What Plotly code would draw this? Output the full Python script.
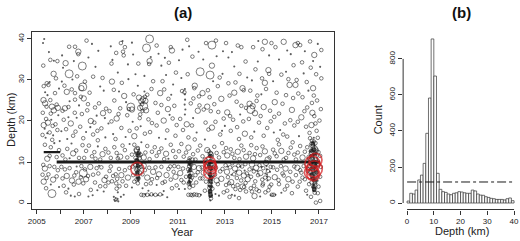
import plotly.graph_objects as go

# ---------------- data: panel (a) earthquakes (year, depth km, size class) ----------------
upper_events = [
    (2005.32,40.0,1),(2005.27,39.0,1),(2005.58,34.9,2),(2005.73,34.7,1),(2005.88,34.6,2),
    (2005.72,31.5,3),(2005.43,29.2,2),(2005.50,28.8,2),(2005.30,28.5,2),(2005.55,29.5,1),
    (2005.29,25.1,3),(2005.36,24.3,3),(2005.42,23.5,2),(2005.58,25.1,2),(2005.65,23.5,3),
    (2005.85,24.0,2),(2005.73,22.6,3),(2005.26,22.0,2),(2005.40,20.5,2),(2005.48,19.6,3),
    (2005.62,20.3,1),(2005.80,19.2,2),(2005.34,18.1,1),(2005.92,21.4,1),(2005.55,17.2,2),
    (2005.30,19.0,3),(2005.70,16.5,1),(2005.88,17.8,2),(2005.46,26.3,1),(2005.95,27.9,1),
    (2005.66,15.4,2),(2005.38,15.9,1),(2005.78,26.8,2),
    (2006.23,34.1,3),(2006.38,38.1,2),(2006.63,38.1,2),(2006.77,36.9,3),(2006.77,36.3,2),
    (2006.94,33.4,4),(2006.38,31.5,4),(2006.07,29.6,1),(2006.28,27.1,3),(2006.49,27.7,2),
    (2006.63,26.8,2),(2006.90,28.0,3),(2006.96,28.3,4),(2006.63,25.2,2),(2006.20,23.1,3),
    (2006.35,23.4,2),(2006.62,22.0,2),(2006.15,20.3,2),(2006.45,19.4,3),(2006.70,20.8,1),
    (2006.85,18.6,2),(2006.05,17.5,1),(2006.55,16.4,2),(2006.30,15.6,1),(2006.92,21.7,2),
    (2006.12,33.0,1),(2006.52,30.1,1),(2006.80,23.8,1),(2006.25,18.0,2),
    (2007.05,29.6,2),(2007.00,25.5,3),(2007.15,22.6,2),(2007.30,20.0,3),(2007.45,19.6,2),
    (2007.55,21.3,1),(2007.25,26.9,2),(2007.65,24.3,2),(2007.50,33.2,1),(2007.85,27.4,1),
    (2007.40,16.7,2),(2007.75,18.2,2),(2007.90,20.7,1),(2007.10,17.3,1),(2007.60,15.3,2),
    (2007.20,35.5,1),(2007.80,30.5,2),(2007.95,23.0,2),(2007.35,38.8,1),
    (2008.20,29.6,3),(2008.22,34.9,1),(2008.18,34.0,2),(2008.58,39.0,2),(2008.65,39.5,1),
    (2008.67,36.9,2),(2008.70,36.0,2),(2008.75,38.0,2),(2008.45,31.8,1),(2008.50,27.2,1),
    (2008.30,25.0,2),(2008.10,22.4,2),(2008.40,20.6,3),(2008.85,21.4,2),(2008.60,18.3,2),
    (2008.25,16.8,1),(2008.95,17.6,2),(2008.80,24.6,1),(2008.05,19.4,1),(2008.90,30.2,1),
    (2008.35,15.6,2),(2008.55,23.1,2),
    (2009.00,23.4,4),(2009.05,22.8,3),(2009.80,40.0,4),(2009.67,37.8,4),(2009.80,34.6,3),
    (2009.78,33.9,2),(2009.85,35.6,1),(2009.35,25.7,3),(2009.45,24.8,3),(2009.55,23.6,4),
    (2009.62,24.9,3),(2009.70,26.4,2),(2009.50,22.5,2),(2009.40,21.6,2),(2009.58,27.2,1),
    (2009.25,18.2,2),(2009.90,19.5,2),(2009.15,16.3,3),(2009.75,20.4,2),(2009.30,28.6,1),
    (2009.95,29.7,2),(2009.20,31.4,1),(2009.60,16.9,2),(2009.48,24.1,2),(2009.52,25.3,3),
    (2009.10,36.2,1),(2009.42,18.7,1),
    (2010.10,38.4,2),(2010.70,38.0,2),(2010.75,37.2,3),(2010.30,33.5,1),(2010.50,31.2,1),
    (2010.25,26.8,3),(2010.60,25.4,2),(2010.15,22.0,2),(2010.85,23.7,2),(2010.40,20.1,3),
    (2010.05,24.4,2),(2010.95,19.0,2),(2010.55,17.7,2),(2010.20,15.9,1),(2010.80,28.9,1),
    (2010.35,29.7,2),(2010.65,21.5,1),(2010.90,16.4,2),(2010.45,35.4,1),
    (2011.40,39.8,2),(2011.48,38.2,1),(2011.30,27.8,1),(2011.30,26.5,1),(2011.31,25.2,1),
    (2011.29,24.0,1),(2011.32,22.8,1),(2011.30,21.6,1),(2011.28,27.0,2),(2011.70,28.0,2),
    (2011.72,28.6,3),(2011.95,32.0,4),(2011.55,24.3,2),(2011.85,22.5,3),(2011.10,20.5,2),
    (2011.60,18.9,2),(2011.80,17.2,1),(2011.15,30.5,1),(2011.90,26.0,2),(2011.45,16.0,2),
    (2011.05,34.8,1),(2011.65,20.7,1),
    (2012.05,26.8,3),(2012.37,31.2,4),(2012.45,38.5,4),(2012.45,33.5,3),(2012.20,39.0,2),
    (2012.10,22.8,2),(2012.25,23.5,3),(2012.40,22.4,2),(2012.55,24.1,2),(2012.70,28.5,2),
    (2012.85,25.4,3),(2012.60,19.8,2),(2012.30,17.9,2),(2012.95,20.6,2),(2012.15,15.5,1),
    (2012.80,16.7,2),(2012.50,29.7,1),(2012.65,35.8,1),(2012.90,31.5,1),
    (2013.55,38.4,2),(2013.70,38.0,2),(2013.40,33.3,1),(2013.75,28.0,3),(2013.80,27.5,2),
    (2013.20,26.2,2),(2013.50,24.7,2),(2013.10,22.1,3),(2013.35,20.3,2),(2013.65,21.6,1),
    (2013.90,23.2,2),(2013.25,17.6,2),(2013.85,16.9,3),(2013.00,18.8,1),(2013.60,15.6,2),
    (2013.95,30.6,1),(2013.15,35.5,1),(2013.45,29.4,2),
    (2014.20,38.0,2),(2014.60,37.5,2),(2014.70,39.3,3),(2014.98,39.0,2),(2014.05,24.2,3),
    (2014.10,22.8,4),(2014.18,23.6,3),(2014.28,21.9,3),(2014.35,24.9,2),(2014.02,20.5,2),
    (2014.85,32.4,3),(2014.88,31.5,2),(2014.70,29.3,3),(2014.75,27.8,2),(2014.55,26.5,1),
    (2014.45,19.6,2),(2014.80,18.3,2),(2014.65,16.4,2),(2014.25,17.4,1),(2014.92,22.5,2),
    (2014.40,34.5,1),(2014.15,29.9,1),
    (2015.50,39.3,3),(2015.30,35.0,1),(2015.60,32.0,1),(2015.75,28.8,3),(2015.70,30.2,2),
    (2015.20,26.9,2),(2015.45,24.2,2),(2015.85,22.7,3),(2015.10,21.0,2),(2015.55,19.4,2),
    (2015.35,17.8,1),(2015.95,18.9,2),(2015.65,16.2,2),(2015.05,29.7,1),(2015.90,25.6,2),
    (2015.25,15.4,2),(2015.80,36.3,1),
    (2016.00,38.5,3),(2016.10,39.0,2),(2016.20,38.5,2),(2016.00,28.8,3),(2016.05,30.0,2),
    (2016.80,36.1,3),(2017.10,37.3,2),(2016.95,38.8,1),(2016.75,34.6,1),(2017.05,33.2,1),
    (2017.10,30.4,2),(2016.75,28.0,3),(2016.78,26.2,2),(2016.70,24.4,2),(2016.72,22.0,3),
    (2016.80,21.2,2),(2017.08,22.9,2),(2016.30,25.8,2),(2016.50,23.3,2),(2016.25,20.9,3),
    (2016.45,18.6,2),(2016.60,17.1,2),(2016.15,16.3,1),(2016.35,31.6,1),(2016.55,27.4,1),
    (2016.85,19.4,2),(2016.90,17.6,2),(2016.65,33.0,2),
]

extra_upper_events = [
    (2005.28,33.5,2),(2005.52,36.8,1),(2005.82,30.4,2),(2005.36,27.0,1),(2005.60,21.8,2),
    (2005.90,23.2,3),(2005.45,17.0,1),(2005.25,16.6,2),(2005.68,18.8,2),(2005.98,15.1,1),
    (2006.08,36.0,1),(2006.58,34.6,1),(2006.18,28.6,2),(2006.72,30.9,2),(2006.40,24.8,1),
    (2006.88,25.9,2),(2006.10,22.5,2),(2006.65,17.4,2),(2006.35,20.9,1),(2006.98,15.8,2),
    (2007.12,39.6,2),(2007.62,37.1,1),(2007.40,30.8,2),(2007.70,28.4,1),(2007.18,24.1,2),
    (2007.48,23.3,2),(2007.82,21.9,3),(2007.28,18.5,1),(2007.58,17.6,2),(2007.92,16.0,1),
    (2008.15,38.2,1),(2008.38,36.6,2),(2008.88,33.8,1),(2008.62,29.3,2),(2008.28,27.6,2),
    (2008.72,26.1,3),(2008.48,21.7,2),(2008.18,19.9,2),(2008.78,16.1,1),(2008.92,22.9,2),
    (2009.05,39.1,1),(2009.32,34.0,2),(2009.58,31.0,1),(2009.88,27.8,2),(2009.12,26.5,2),
    (2009.40,23.2,3),(2009.65,22.6,3),(2009.60,25.9,2),(2009.38,20.7,2),(2009.82,17.3,2),
    (2009.08,19.8,1),
    (2010.18,36.4,1),(2010.62,34.2,2),(2010.92,31.8,2),(2010.42,27.7,2),(2010.72,26.4,1),
    (2010.30,23.9,2),(2010.58,22.9,3),(2010.10,18.9,2),(2010.78,20.6,2),(2010.48,15.6,1),
    (2011.20,37.4,1),(2011.62,35.7,2),(2011.88,36.9,1),(2011.42,31.4,2),(2011.18,27.3,2),
    (2011.66,25.5,2),(2011.92,23.8,2),(2011.38,19.2,3),(2011.72,15.5,2),(2011.22,17.8,2),
    (2012.08,35.0,1),(2012.62,39.6,2),(2012.92,37.0,1),(2012.28,27.5,2),(2012.78,30.6,2),
    (2012.18,19.6,2),(2012.45,18.4,3),(2012.72,22.2,2),(2012.88,17.6,1),(2012.35,25.8,2),
    (2013.05,39.0,2),(2013.30,36.8,1),(2013.88,34.5,2),(2013.62,31.5,2),(2013.15,29.2,2),
    (2013.40,26.9,3),(2013.70,23.7,2),(2013.22,21.2,2),(2013.52,18.5,2),(2013.78,19.9,2),
    (2014.42,39.5,1),(2014.88,36.0,1),(2014.30,32.6,2),(2014.58,30.4,2),(2014.08,27.4,2),
    (2014.38,26.2,2),(2014.65,23.4,3),(2014.95,19.9,2),(2014.12,16.0,2),(2014.52,21.2,2),
    (2015.15,38.0,2),(2015.65,37.2,1),(2015.92,33.6,2),(2015.40,31.3,2),(2015.12,24.6,3),
    (2015.60,26.3,2),(2015.30,21.8,2),(2015.78,20.2,2),(2015.48,16.7,2),(2015.08,17.2,1),
    (2016.40,37.0,1),(2016.62,39.4,2),(2016.28,34.3,2),(2016.88,31.4,2),(2016.48,29.5,2),
    (2016.12,26.7,2),(2016.92,25.0,2),(2016.38,22.4,2),(2016.10,19.8,2),(2016.68,19.0,3),
    (2016.95,15.9,2),(2017.02,20.1,2),
]

mid_events = [
    (2005.35,14.2,2),(2005.60,13.6,2),(2005.85,11.2,2),(2005.45,10.8,3),(2005.75,14.6,1),
    (2006.10,11.6,2),(2006.30,13.2,2),(2006.55,12.1,3),(2006.80,11.0,2),(2006.95,14.1,2),(2006.40,10.9,1),
    (2007.10,12.7,2),(2007.35,11.4,2),(2007.60,13.8,1),(2007.80,11.9,3),(2007.50,10.8,2),
    (2008.05,12.3,2),(2008.30,13.6,2),(2008.55,11.3,3),(2008.75,12.9,2),(2008.95,14.4,1),(2008.45,10.9,2),
    (2009.05,11.8,2),(2009.25,13.0,3),(2009.35,12.2,2),(2009.55,11.1,3),(2009.70,13.9,2),(2009.90,12.5,2),(2009.45,14.8,1),
    (2010.10,11.5,2),(2010.30,13.3,2),(2010.50,12.0,3),(2010.70,14.2,2),(2010.90,11.2,2),(2010.60,10.8,1),
    (2011.05,12.6,2),(2011.25,11.3,2),(2011.45,13.5,3),(2011.65,11.9,2),(2011.85,12.8,2),(2011.50,10.9,2),
    (2012.05,11.4,2),(2012.25,12.9,3),(2012.40,11.8,3),(2012.55,13.7,2),(2012.75,11.1,2),(2012.95,12.4,2),
    (2013.10,11.6,3),(2013.25,13.1,2),(2013.40,11.0,2),(2013.55,12.5,3),(2013.70,14.0,2),(2013.90,11.3,3),
    (2014.05,12.2,2),(2014.20,10.9,3),(2014.35,13.4,2),(2014.50,11.7,2),(2014.70,12.6,3),(2014.90,11.1,2),
    (2015.05,13.0,2),(2015.20,11.4,2),(2015.40,12.7,3),(2015.60,11.0,2),(2015.80,13.5,2),(2015.95,11.8,2),
    (2016.10,12.3,2),(2016.30,11.1,3),(2016.50,13.6,2),(2016.65,12.0,2),(2016.70,14.2,3),(2016.78,15.0,2),
    (2016.82,13.3,3),(2016.90,12.6,2),(2017.05,11.5,2),
    (2005.55,11.5,2),(2005.95,12.9,2),(2006.22,10.6,2),(2006.48,14.5,1),(2006.68,12.8,2),(2007.02,11.0,2),
    (2007.22,14.0,2),(2007.45,12.4,2),(2007.70,10.6,2),(2007.92,13.2,2),(2008.15,11.0,2),(2008.40,12.2,2),
    (2008.65,14.0,2),(2008.85,11.1,2),(2009.15,14.2,2),(2009.62,12.3,2),(2009.80,10.7,2),(2010.02,13.6,2),
    (2010.20,12.4,2),(2010.42,10.7,2),(2010.80,12.7,2),(2011.15,14.4,2),(2011.35,12.3,2),(2011.75,10.6,2),
    (2011.95,14.0,2),(2012.15,10.6,2),(2012.65,12.2,2),(2012.88,14.6,2),(2013.05,13.4,2),(2013.32,12.0,2),
    (2013.62,10.7,2),(2013.80,12.9,2),(2014.12,14.1,2),(2014.28,11.9,2),(2014.60,13.8,2),(2014.82,10.6,3),
    (2015.12,12.1,2),(2015.30,14.3,2),(2015.50,10.6,2),(2015.70,12.2,2),(2015.88,14.8,2),(2016.02,10.6,2),
    (2016.20,13.9,2),(2016.40,12.5,2),(2016.58,10.8,2),
]

lower_events = [
    (2005.30,5.2,3),(2005.65,2.3,4),(2005.35,8.4,3),(2005.50,7.0,2),(2005.42,6.1,2),(2005.75,8.8,2),
    (2005.60,4.5,1),(2005.85,6.5,2),(2005.28,9.3,2),(2005.95,3.9,1),
    (2006.50,5.5,3),(2006.60,6.7,2),(2006.98,7.3,4),(2006.98,4.8,2),(2006.80,2.2,2),(2006.20,8.2,2),
    (2006.35,3.5,1),(2006.10,6.0,2),(2006.70,8.9,1),(2006.45,1.8,1),(2006.90,9.0,2),
    (2007.10,5.8,3),(2007.40,6.9,2),(2007.70,4.1,2),(2007.20,1.6,1),(2007.55,8.5,2),(2007.85,2.8,1),
    (2007.30,3.2,2),(2007.95,6.4,2),(2007.65,9.1,1),
    (2008.40,3.5,2),(2008.38,4.8,2),(2008.42,5.9,2),(2008.36,7.0,2),(2008.30,0.8,1),(2008.33,0.5,1),
    (2008.36,1.2,1),(2008.40,0.6,1),(2008.44,1.0,1),(2008.28,1.5,1),(2008.47,0.4,1),(2008.60,6.8,3),
    (2008.80,4.2,2),(2008.10,7.8,2),(2008.95,8.6,2),(2008.70,2.0,1),(2008.20,5.3,2),
    (2009.45,2.0,2),(2009.55,1.9,2),(2009.62,2.1,1),(2009.70,2.0,2),(2009.80,1.9,1),(2009.88,2.1,2),
    (2009.95,2.0,1),(2010.05,2.0,2),(2010.15,1.9,1),(2010.25,2.1,2),(2010.35,2.0,1),
    (2009.70,6.2,3),(2009.85,4.8,2),(2009.60,8.0,2),(2009.10,6.8,2),(2009.95,7.6,3),(2009.05,3.8,1),
    (2010.20,7.0,3),(2010.45,5.2,2),(2010.60,8.3,2),(2010.75,3.6,2),(2010.90,6.4,3),(2010.10,4.4,1),
    (2010.55,1.4,1),(2010.85,9.0,2),
    (2011.45,2.0,2),(2011.55,2.0,2),(2011.62,1.9,2),(2011.70,2.1,2),(2011.80,2.0,2),(2011.90,1.9,2),
    (2011.98,2.0,1),(2011.10,7.3,3),(2011.25,5.0,2),(2011.75,6.8,2),(2011.90,8.5,3),(2011.05,3.4,1),
    (2011.65,4.2,2),
    (2012.05,6.0,2),(2012.15,3.0,2),(2012.65,5.5,3),(2012.80,7.7,2),(2012.95,2.6,2),(2012.55,8.9,2),
    (2012.75,1.8,1),
    (2013.20,1.5,2),(2013.60,1.2,2),(2013.30,2.0,1),(2013.05,4.4,2),(2013.45,3.4,2),(2013.75,4.0,3),
    (2013.90,2.8,2),
    (2014.26,1.7,3),(2014.10,3.6,2),(2014.45,2.9,2),(2014.60,4.3,2),(2014.85,3.1,2),(2014.95,1.9,1),
    (2015.00,2.0,2),(2015.08,2.0,2),(2015.15,2.0,1),(2015.30,4.6,2),(2015.55,3.3,2),(2015.70,5.8,3),
    (2015.85,2.4,2),(2015.45,7.2,2),
    (2016.10,4.0,2),(2016.30,6.2,2),(2016.45,3.0,2),(2016.66,1.5,2),(2016.87,0.1,2),(2017.05,0.5,2),
    (2016.95,2.4,2),(2016.20,8.0,2),
]

extra_lower_events = [
    (2005.40,3.6,2),(2005.55,9.0,2),(2005.25,6.9,2),(2005.70,5.7,3),(2005.90,8.0,2),
    (2006.05,8.8,2),(2006.15,4.2,2),(2006.28,6.6,3),(2006.40,8.5,2),(2006.58,4.5,2),(2006.68,7.5,2),
    (2006.78,5.2,3),(2006.88,6.3,2),(2006.25,2.6,2),(2006.62,1.6,1),
    (2007.05,8.2,2),(2007.18,6.6,2),(2007.28,8.8,3),(2007.48,5.0,2),(2007.62,7.2,2),(2007.75,8.7,2),
    (2007.88,5.6,3),(2007.38,1.9,1),(2007.58,3.1,1),(2007.92,4.1,2),
    (2008.05,5.0,2),(2008.15,8.9,2),(2008.25,6.6,2),(2008.50,8.3,2),(2008.52,4.1,2),(2008.65,5.3,2),
    (2008.75,8.0,2),(2008.88,6.2,3),(2008.45,2.6,1),(2008.58,1.5,1),
    (2009.08,8.9,2),(2009.15,5.2,2),(2009.50,7.0,2),(2009.55,9.1,3),(2009.65,4.6,2),(2009.78,8.6,2),
    (2009.90,5.8,2),(2009.50,3.6,1),(2009.75,3.0,1),
    (2010.05,8.7,2),(2010.12,6.1,2),(2010.30,8.8,2),(2010.35,4.9,2),(2010.52,6.8,3),(2010.68,8.9,2),
    (2010.70,5.7,2),(2010.82,7.6,2),(2010.95,4.3,2),(2010.40,2.9,1),
    (2011.02,8.8,2),(2011.15,5.6,2),(2011.22,8.4,2),(2011.35,6.4,2),(2011.68,8.8,3),(2011.78,5.0,2),
    (2011.85,7.5,2),(2011.95,6.0,2),(2011.30,3.4,1),
    (2012.02,8.7,2),(2012.10,7.4,3),(2012.20,5.2,2),(2012.22,8.9,2),(2012.58,6.9,2),(2012.62,8.6,2),
    (2012.70,4.6,2),(2012.85,5.9,3),(2012.90,8.3,2),(2012.60,2.2,1),
    (2013.10,3.0,2),(2013.35,4.1,2),(2013.65,3.2,2),(2013.82,3.9,2),(2013.42,1.8,1),
    (2014.15,2.8,2),(2014.35,3.3,2),(2014.72,2.6,2),(2014.90,4.0,2),(2014.50,1.6,1),
    (2015.05,8.7,2),(2015.12,6.3,3),(2015.22,8.1,2),(2015.28,5.6,2),(2015.38,9.0,2),(2015.50,6.7,2),
    (2015.58,8.4,3),(2015.65,4.2,2),(2015.78,7.6,2),(2015.88,5.2,2),(2015.95,8.9,2),(2015.40,2.5,1),
    (2016.02,6.8,2),(2016.08,8.6,3),(2016.18,5.2,2),(2016.25,7.4,2),(2016.35,9.0,2),(2016.40,5.8,2),
    (2016.52,7.8,2),(2016.58,4.6,2),(2016.50,2.0,1),(2016.98,4.0,2),(2017.05,6.4,2),(2017.08,8.8,2),
]

swarm_2009 = [
    (2009.22,12.8,2),(2009.30,13.4,2),(2009.26,11.9,1),(2009.34,11.6,2),(2009.20,11.0,2),(2009.28,10.6,1),
    (2009.38,10.9,2),(2009.24,10.2,2),(2009.32,9.8,1),(2009.40,9.5,2),(2009.19,9.2,2),(2009.27,8.9,1),
    (2009.35,8.6,2),(2009.23,8.1,2),(2009.31,7.7,1),(2009.39,7.4,2),(2009.21,7.0,1),(2009.29,6.6,2),
    (2009.36,6.2,1),(2009.25,5.8,2),(2009.33,5.4,1),(2009.30,4.8,2),(2009.27,9.5,1),(2009.33,10.3,1),
    (2009.25,7.4,1),(2009.37,8.0,1),(2009.29,11.3,1),(2009.22,9.8,1),(2009.42,11.8,2),(2009.18,12.2,1),
    (2009.31,12.4,1),(2009.35,13.0,1),(2009.44,8.8,2),(2009.28,6.0,1),(2009.34,7.0,1),(2009.26,8.5,2),
    (2009.30,10.0,1),(2009.38,12.2,1),
]

swarm_2011 = [
    (2011.45,10.2,2),(2011.52,9.6,1),(2011.48,9.0,2),(2011.56,8.6,1),(2011.44,8.2,2),(2011.50,7.8,1),
    (2011.58,7.3,2),(2011.47,6.9,1),(2011.53,6.5,2),(2011.49,6.0,1),(2011.55,5.6,2),(2011.51,5.1,1),
    (2011.46,4.7,2),(2011.54,4.3,1),(2011.50,3.8,2),(2011.60,6.2,2),(2011.43,7.5,1),(2011.52,8.3,1),
    (2011.57,9.3,2),(2011.48,5.5,1),(2011.53,7.0,1),(2011.46,9.8,1),(2011.62,10.6,2),(2011.50,10.8,1),
]

swarm_2012 = [
    (2012.32,12.6,2),(2012.40,12.2,2),(2012.36,11.7,1),(2012.44,11.3,2),(2012.30,10.9,2),(2012.38,10.5,1),
    (2012.46,10.1,2),(2012.34,9.7,1),(2012.42,9.3,2),(2012.29,8.9,1),(2012.37,8.5,2),(2012.45,8.1,1),
    (2012.33,7.7,2),(2012.41,7.3,1),(2012.48,6.9,2),(2012.35,6.5,1),(2012.43,6.1,2),(2012.31,5.7,1),
    (2012.39,5.3,2),(2012.46,4.9,1),(2012.36,4.5,2),(2012.42,4.1,1),(2012.34,3.7,2),(2012.40,3.3,1),
    (2012.37,2.9,2),(2012.43,2.5,1),(2012.39,2.1,2),(2012.36,1.6,1),(2012.41,1.1,2),(2012.38,0.6,1),
    (2012.44,5.6,1),(2012.32,6.8,1),(2012.40,7.9,1),(2012.35,9.0,1),(2012.43,10.4,1),(2012.38,11.2,1),
    (2012.30,4.2,1),(2012.47,3.5,2),(2012.33,2.4,1),(2012.45,1.8,1),(2012.50,8.6,2),(2012.27,9.8,2),
    (2012.39,6.3,1),(2012.36,3.0,1),(2012.42,4.8,1),(2012.34,5.0,1),(2012.40,9.8,1),(2012.37,7.2,1),
]

swarm_2013_2015 = [
    (2013.03,9.2,2),(2013.09,7.6,3),(2013.13,6.3,2),(2013.22,8.7,2),(2013.27,5.1,3),(2013.31,9.7,2),
    (2013.39,7.0,2),(2013.43,8.4,3),(2013.51,6.1,2),(2013.57,9.1,2),(2013.61,7.4,3),(2013.69,5.5,2),
    (2013.73,8.9,2),(2013.81,6.7,3),(2013.87,9.5,2),(2013.93,7.2,2),(2013.97,5.8,3),(2014.05,8.2,2),
    (2014.11,6.4,2),(2014.15,9.4,3),(2014.23,7.7,2),(2014.29,5.3,2),(2014.33,8.6,3),(2014.41,6.8,2),
    (2014.47,9.2,2),(2014.51,7.3,3),(2014.59,5.7,2),(2014.63,8.5,2),(2014.71,6.2,2),(2014.75,9.8,3),
    (2014.83,7.8,2),(2014.87,6.0,2),(2014.95,8.8,2),(2013.12,8.9,1),(2013.28,6.9,1),(2013.48,7.7,1),
    (2013.66,8.9,1),(2013.84,7.9,1),(2014.02,6.9,1),(2014.18,8.2,1),(2014.38,7.8,1),(2014.56,8.8,1),
    (2014.72,7.2,1),(2014.92,7.6,1),(2013.18,4.8,2),(2013.54,4.4,2),(2013.88,4.9,2),(2014.24,4.2,2),
    (2014.62,4.7,2),(2014.97,4.5,2),(2014.78,8.2,1),(2014.79,7.0,1),(2014.80,6.5,1),(2014.77,9.0,1),
    (2014.81,5.5,1),
]

swarm_2016 = [
    (2016.62,15.8,2),(2016.70,15.2,2),(2016.78,15.9,1),(2016.85,14.6,2),(2016.66,14.2,1),(2016.74,13.8,2),
    (2016.82,13.4,1),(2016.90,13.0,2),(2016.60,12.6,1),(2016.68,12.2,2),(2016.76,11.8,1),(2016.84,11.4,2),
    (2016.92,11.0,1),(2016.64,10.6,2),(2016.72,10.2,1),(2016.80,9.8,2),(2016.88,9.4,1),(2016.58,9.0,2),
    (2016.66,8.6,1),(2016.74,8.2,2),(2016.82,7.8,1),(2016.90,7.4,2),(2016.62,7.0,1),(2016.70,6.6,2),
    (2016.78,6.2,1),(2016.86,5.8,2),(2016.94,5.4,1),(2016.68,5.0,2),(2016.76,4.6,1),(2016.84,4.2,2),
    (2016.72,3.8,1),(2016.80,3.4,2),(2016.76,3.0,1),(2016.82,2.5,2),(2016.70,13.0,1),(2016.78,12.6,1),
    (2016.86,12.0,1),(2016.64,11.6,1),(2016.72,11.0,2),(2016.80,10.6,1),(2016.88,10.0,2),(2016.60,9.6,1),
    (2016.68,9.2,1),(2016.76,8.8,2),(2016.84,8.4,1),(2016.92,8.0,1),(2016.64,7.6,2),(2016.72,7.2,1),
    (2016.80,6.8,1),(2016.88,6.4,2),(2016.66,6.0,1),(2016.74,5.6,1),(2016.82,5.2,2),(2016.90,4.8,1),
    (2016.78,4.4,1),(2016.86,3.6,1),(2016.95,9.2,2),(2016.98,12.4,2),(2016.56,11.2,2),(2016.54,8.2,2),
    (2016.74,14.8,1),(2016.82,14.0,1),(2016.70,9.9,1),(2016.78,10.9,1),(2016.86,8.9,1),(2016.62,8.2,1),
    (2016.94,10.6,1),(2016.68,7.9,1),(2016.76,7.5,1),
]

# darkest cores of the swarms (heavily overlapping events)
core_events = [
    (2009.28,7.5,0),(2009.30,9.0,0),(2009.26,10.5,0),(2009.32,6.0,0),(2009.29,11.8,0),
    (2011.50,6.5,0),(2011.52,8.0,0),(2011.49,5.0,0),(2011.51,9.5,0),
    (2012.38,11.5,0),(2012.37,10.0,0),(2012.39,8.5,0),(2012.36,7.0,0),(2012.38,5.5,0),(2012.40,4.0,0),
    (2012.37,2.8,0),(2012.39,1.8,0),(2012.34,9.2,0),(2012.42,6.3,0),
    (2016.74,14.5,0),(2016.78,13.0,0),(2016.72,11.5,0),(2016.80,10.0,0),(2016.76,8.5,0),(2016.70,7.0,0),
    (2016.82,5.5,0),(2016.77,4.0,0),(2016.84,12.0,0),(2016.66,9.5,0),(2016.88,7.5,0),(2016.68,12.8,0),
    (2016.86,9.0,0),(2016.74,6.0,0),(2016.80,3.2,0),
]

# dense rows of fixed-depth events (depth, first year, last year)
band_depth = [10.0, 12.4]
band_start = [2005.85, 2005.30]
band_end = [2017.05, 2006.00]

# largest events (red circles)
red_year = [2009.28, 2012.35, 2012.38, 2012.36, 2012.40, 2016.72, 2016.80, 2016.68, 2016.85, 2016.76]
red_depth = [8.3, 9.8, 8.6, 7.4, 9.0, 9.6, 8.3, 7.5, 10.5, 7.0]
red_size = [13, 12, 13, 12, 11, 15, 16, 14, 13, 13]

year_ticks = list(range(2005, 2018))
year_labels = [str(y) if y % 2 == 1 else "" for y in year_ticks]
depth_ticks = [0, 10, 20, 30, 40]

# ---------------- data: panel (b) histogram of depths (1-km bins 0..40) ----------------
bin_left = list(range(0, 40))
bin_count = [11, 54, 50, 72, 128, 155, 220, 387, 583, 911, 705, 165, 76, 63, 59, 50, 46, 54, 57, 63,
             61, 57, 54, 54, 72, 67, 50, 44, 43, 35, 31, 26, 24, 20, 20, 20, 17, 24, 28, 13]
count_ticks = [0, 200, 400, 600, 800]
hist_depth_ticks = [0, 10, 20, 30, 40]

# ---------------- build figure ----------------
size_px = {0: 4.6, 1: 2.1, 2: 3.6, 3: 5.4, 4: 8.0, 5: 11.0}
all_events = (upper_events + extra_upper_events + mid_events + lower_events + extra_lower_events
              + swarm_2009 + swarm_2011 + swarm_2012 + swarm_2013_2015 + swarm_2016 + core_events)
dots = [e for e in all_events if e[2] <= 1]
rings = [e for e in all_events if e[2] > 1]

INK = "#1a1a1a"
fig = go.Figure()

for d, s, e in zip(band_depth, band_start, band_end):
    fig.add_trace(go.Scatter(x=[s, e], y=[d, d], mode="lines",
                             line=dict(color=INK, width=2.8 if d == 10.0 else 2.2),
                             xaxis="x", yaxis="y", hoverinfo="skip"))

fig.add_trace(go.Scatter(x=[e[0] for e in rings], y=[e[1] for e in rings], mode="markers",
                         marker=dict(symbol="circle-open", size=[size_px[e[2]] for e in rings],
                                     color=INK, line=dict(width=0.8, color=INK)),
                         xaxis="x", yaxis="y", hoverinfo="skip"))
fig.add_trace(go.Scatter(x=[e[0] for e in dots], y=[e[1] for e in dots], mode="markers",
                         marker=dict(symbol="circle", size=[size_px[e[2]] for e in dots], color=INK,
                                     line=dict(width=0)),
                         xaxis="x", yaxis="y", hoverinfo="skip"))
fig.add_trace(go.Scatter(x=red_year, y=red_depth, mode="markers",
                         marker=dict(symbol="circle-open", size=red_size, color="rgb(212,28,32)",
                                     line=dict(width=1.7, color="rgb(212,28,32)")),
                         xaxis="x", yaxis="y", hoverinfo="skip"))

# histogram
fig.add_trace(go.Bar(x=[b + 0.5 for b in bin_left], y=bin_count, width=1.0,
                     marker=dict(color="white", line=dict(color="#333", width=0.7)),
                     xaxis="x2", yaxis="y2", hoverinfo="skip"))
mean_count = sum(bin_count) / len(bin_count)
fig.add_trace(go.Scatter(x=[bin_left[0], bin_left[-1] + 1], y=[mean_count, mean_count], mode="lines",
                         line=dict(color=INK, width=1, dash="dashdot"),
                         xaxis="x2", yaxis="y2", hoverinfo="skip"))

W, H = 520, 241
FONT = "Liberation Sans, Arial, Helvetica, sans-serif"
tickfont = dict(family=FONT, size=8, color="#222")
ax_common = dict(showgrid=False, zeroline=False, ticks="outside", ticklen=4, tickwidth=1,
                 tickcolor="#333", tickfont=tickfont)

fig.update_layout(
    width=W, height=H, margin=dict(l=0, r=0, t=0, b=0),
    paper_bgcolor="white", plot_bgcolor="white", showlegend=False,
    xaxis=dict(domain=[28 / W, 333 / W], range=[2004.79, 2017.63], tickvals=year_ticks,
               ticktext=year_labels, showline=True, mirror=True, linecolor="#333", linewidth=1,
               anchor="y", **ax_common),
    yaxis=dict(domain=[1 - 209 / H, 1 - 32 / H], range=[-1.46, 41.7], tickvals=depth_ticks,
               tickangle=-90, showline=True, mirror=True, linecolor="#333", linewidth=1,
               anchor="x", **ax_common),
    xaxis2=dict(domain=[403 / W, 519 / W], range=[-1.48, 41.48], tickvals=hist_depth_ticks,
                showline=False, anchor="y2", **ax_common),
    yaxis2=dict(domain=[1 - 209.5 / H, 1 - 33 / H], range=[-36, 944], tickvals=count_ticks,
                tickangle=-90, showline=False, anchor="x2", **ax_common),
    shapes=[
        dict(type="line", xref="x2 domain", x0=0, x1=0, yref="y2", y0=0, y1=800,
             line=dict(color="#333", width=1)),
        dict(type="line", xref="x2", x0=0, x1=40, yref="y2 domain", y0=0, y1=0,
             line=dict(color="#333", width=1)),
    ],
    annotations=[
        dict(text="<b>(a)</b>", x=181 / W, y=1 - 12 / H, xref="paper", yref="paper",
             showarrow=False, font=dict(family=FONT, size=15, color="#111"), xanchor="center", yanchor="middle"),
        dict(text="<b>(b)</b>", x=462 / W, y=1 - 12 / H, xref="paper", yref="paper",
             showarrow=False, font=dict(family=FONT, size=15, color="#111"), xanchor="center", yanchor="middle"),
        dict(text="Year", x=180 / W, y=1 - 232 / H, xref="paper", yref="paper", showarrow=False,
             font=dict(family=FONT, size=11, color="#222"), xanchor="center", yanchor="middle"),
        dict(text="Depth (km)", x=462 / W, y=1 - 231 / H, xref="paper", yref="paper", showarrow=False,
             font=dict(family=FONT, size=11, color="#222"), xanchor="center", yanchor="middle"),
        dict(text="Depth (km)", x=7 / W, y=1 - 120 / H, xref="paper", yref="paper", showarrow=False,
             textangle=-90, font=dict(family=FONT, size=11, color="#222"), xanchor="center", yanchor="middle"),
        dict(text="Count", x=378 / W, y=1 - 120 / H, xref="paper", yref="paper", showarrow=False,
             textangle=-90, font=dict(family=FONT, size=11, color="#222"), xanchor="center", yanchor="middle"),
    ],
)

fig.write_html("out.html", config={"displayModeBar": False},
               post_script="document.body.style.margin='0px';document.body.style.overflow='hidden';")
